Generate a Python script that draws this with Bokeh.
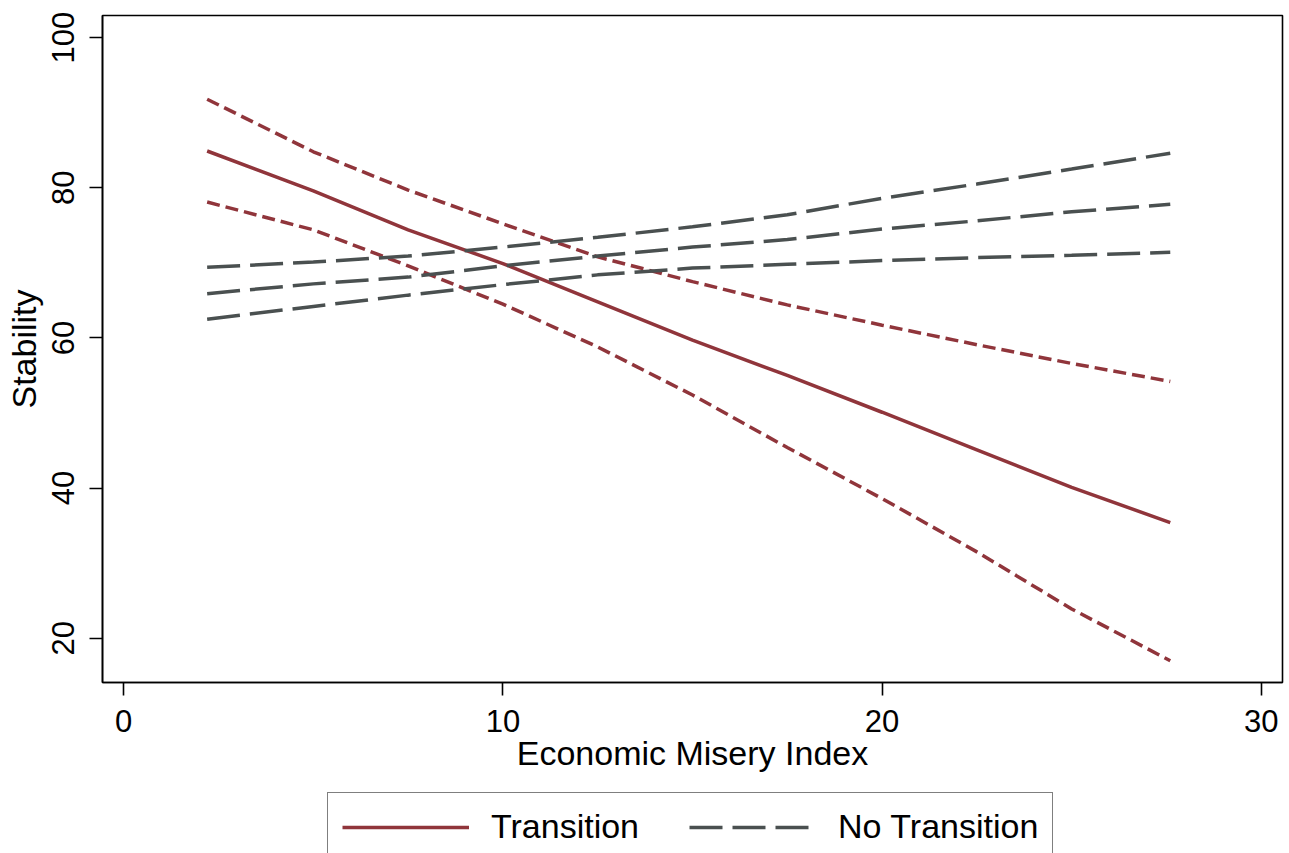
from bokeh.plotting import figure
from bokeh.layouts import column
from bokeh.models import Range1d, FixedTicker, Legend, LegendItem
from bokeh.embed import file_html
from bokeh.resources import INLINE

# Predicted stability over the economic misery index, with 95% bounds
misery = [2.2, 5, 7.5, 10, 12.5, 15, 17.5, 20, 22.5, 25, 27.6]

trans_fit = [84.9, 79.6, 74.4, 69.9, 64.8, 59.7, 55.0, 50.1, 45.1, 40.1, 35.4]
trans_hi = [91.8, 84.8, 79.7, 75.2, 70.8, 67.5, 64.4, 61.7, 59.1, 56.6, 54.2]
trans_lo = [78.1, 74.4, 69.6, 64.5, 58.8, 52.4, 45.4, 38.6, 31.5, 23.9, 17.0]

notrans_fit = [65.9, 67.2, 68.1, 69.6, 70.9, 72.1, 73.1, 74.5, 75.6, 76.8, 77.8]
notrans_hi = [69.4, 70.1, 70.9, 72.1, 73.4, 74.8, 76.4, 78.6, 80.5, 82.5, 84.6]
notrans_lo = [62.5, 64.2, 65.7, 67.1, 68.4, 69.3, 69.8, 70.3, 70.7, 71.0, 71.4]

x_ticks = [0, 10, 20, 30]
y_ticks = [20, 40, 60, 80, 100]
series_names = ["Transition", "No Transition"]

RED = "#90353B"
GRAY = "#4A5050"
FONT = "Liberation Sans"
SOLID = dict(line_color=RED, line_width=3.5)
BOUND = dict(line_color=RED, line_width=3.5, line_dash="13 6")
LONG = dict(line_color=GRAY, line_width=3.5, line_dash="33 10")
BORDERS = dict(min_border_left=102, min_border_right=7)

p = figure(
    width=1289, height=790,
    output_backend="svg", toolbar_location=None,
    x_range=Range1d(-0.56, 30.56), y_range=Range1d(14.1, 102.95),
    min_border_top=15, min_border_bottom=108, **BORDERS,
    background_fill_color="white", border_fill_color="white",
)
p.grid.visible = False
p.outline_line_color = "black"
p.outline_line_width = 1.6
p.outline_line_alpha = 1.0

for ax in (p.xaxis[0], p.yaxis[0]):
    ax.axis_line_color = "black"
    ax.axis_line_width = 1.6
    ax.major_tick_line_color = "black"
    ax.major_tick_line_width = 1.6
    ax.major_tick_out = 13
    ax.major_tick_in = 0
    ax.minor_tick_line_color = None
    ax.major_label_text_font = FONT
    ax.major_label_text_font_size = "31px"
    ax.major_label_text_color = "black"
    ax.axis_label_text_font = FONT
    ax.axis_label_text_font_size = "34px"
    ax.axis_label_text_font_style = "normal"
    ax.axis_label_text_color = "black"

p.xaxis.ticker = FixedTicker(ticks=x_ticks)
p.yaxis.ticker = FixedTicker(ticks=y_ticks)
p.xaxis.axis_label = "Economic Misery Index"
p.yaxis.axis_label = "Stability"
p.xaxis.major_label_standoff = 14
p.xaxis.axis_label_standoff = -1
p.yaxis.major_label_standoff = 15
p.yaxis.axis_label_standoff = 7
p.yaxis.major_label_orientation = "vertical"

# Transition: fitted line and confidence bounds
p.line(misery, trans_fit, **SOLID)
p.line(misery, trans_hi, **BOUND)
p.line(misery, trans_lo, **BOUND)

# No transition: fitted line and confidence bounds
p.line(misery, notrans_fit, **LONG)
p.line(misery, notrans_hi, **LONG)
p.line(misery, notrans_lo, **LONG)

# Legend strip underneath the chart; its ranges keep the key lines out of view
key = figure(
    width=1289, height=63,
    output_backend="svg", toolbar_location=None,
    x_axis_location=None, y_axis_location=None,
    x_range=Range1d(100, 101), y_range=Range1d(100, 101),
    min_border_top=0, min_border_bottom=0, **BORDERS,
    background_fill_color="white", border_fill_color="white",
)
key.grid.visible = False
key.outline_line_color = None
k_trans = key.line(misery, trans_fit, **SOLID)
k_notrans = key.line(misery, notrans_fit, **LONG)

legend = Legend(
    items=[LegendItem(label=series_names[0], renderers=[k_trans]),
           LegendItem(label=series_names[1], renderers=[k_notrans])],
    orientation="horizontal",
    location=(225, -8),
    margin=0,
    padding=14, spacing=50, label_standoff=22,
    glyph_width=127, glyph_height=20,
    label_text_font=FONT, label_text_font_size="34px",
    label_text_color="black",
    border_line_color="black", border_line_width=1.6,
    background_fill_color="white", background_fill_alpha=1.0,
)
key.add_layout(legend)

layout = column(p, key, spacing=0)
open("out.html", "w").write(file_html(layout, INLINE))
